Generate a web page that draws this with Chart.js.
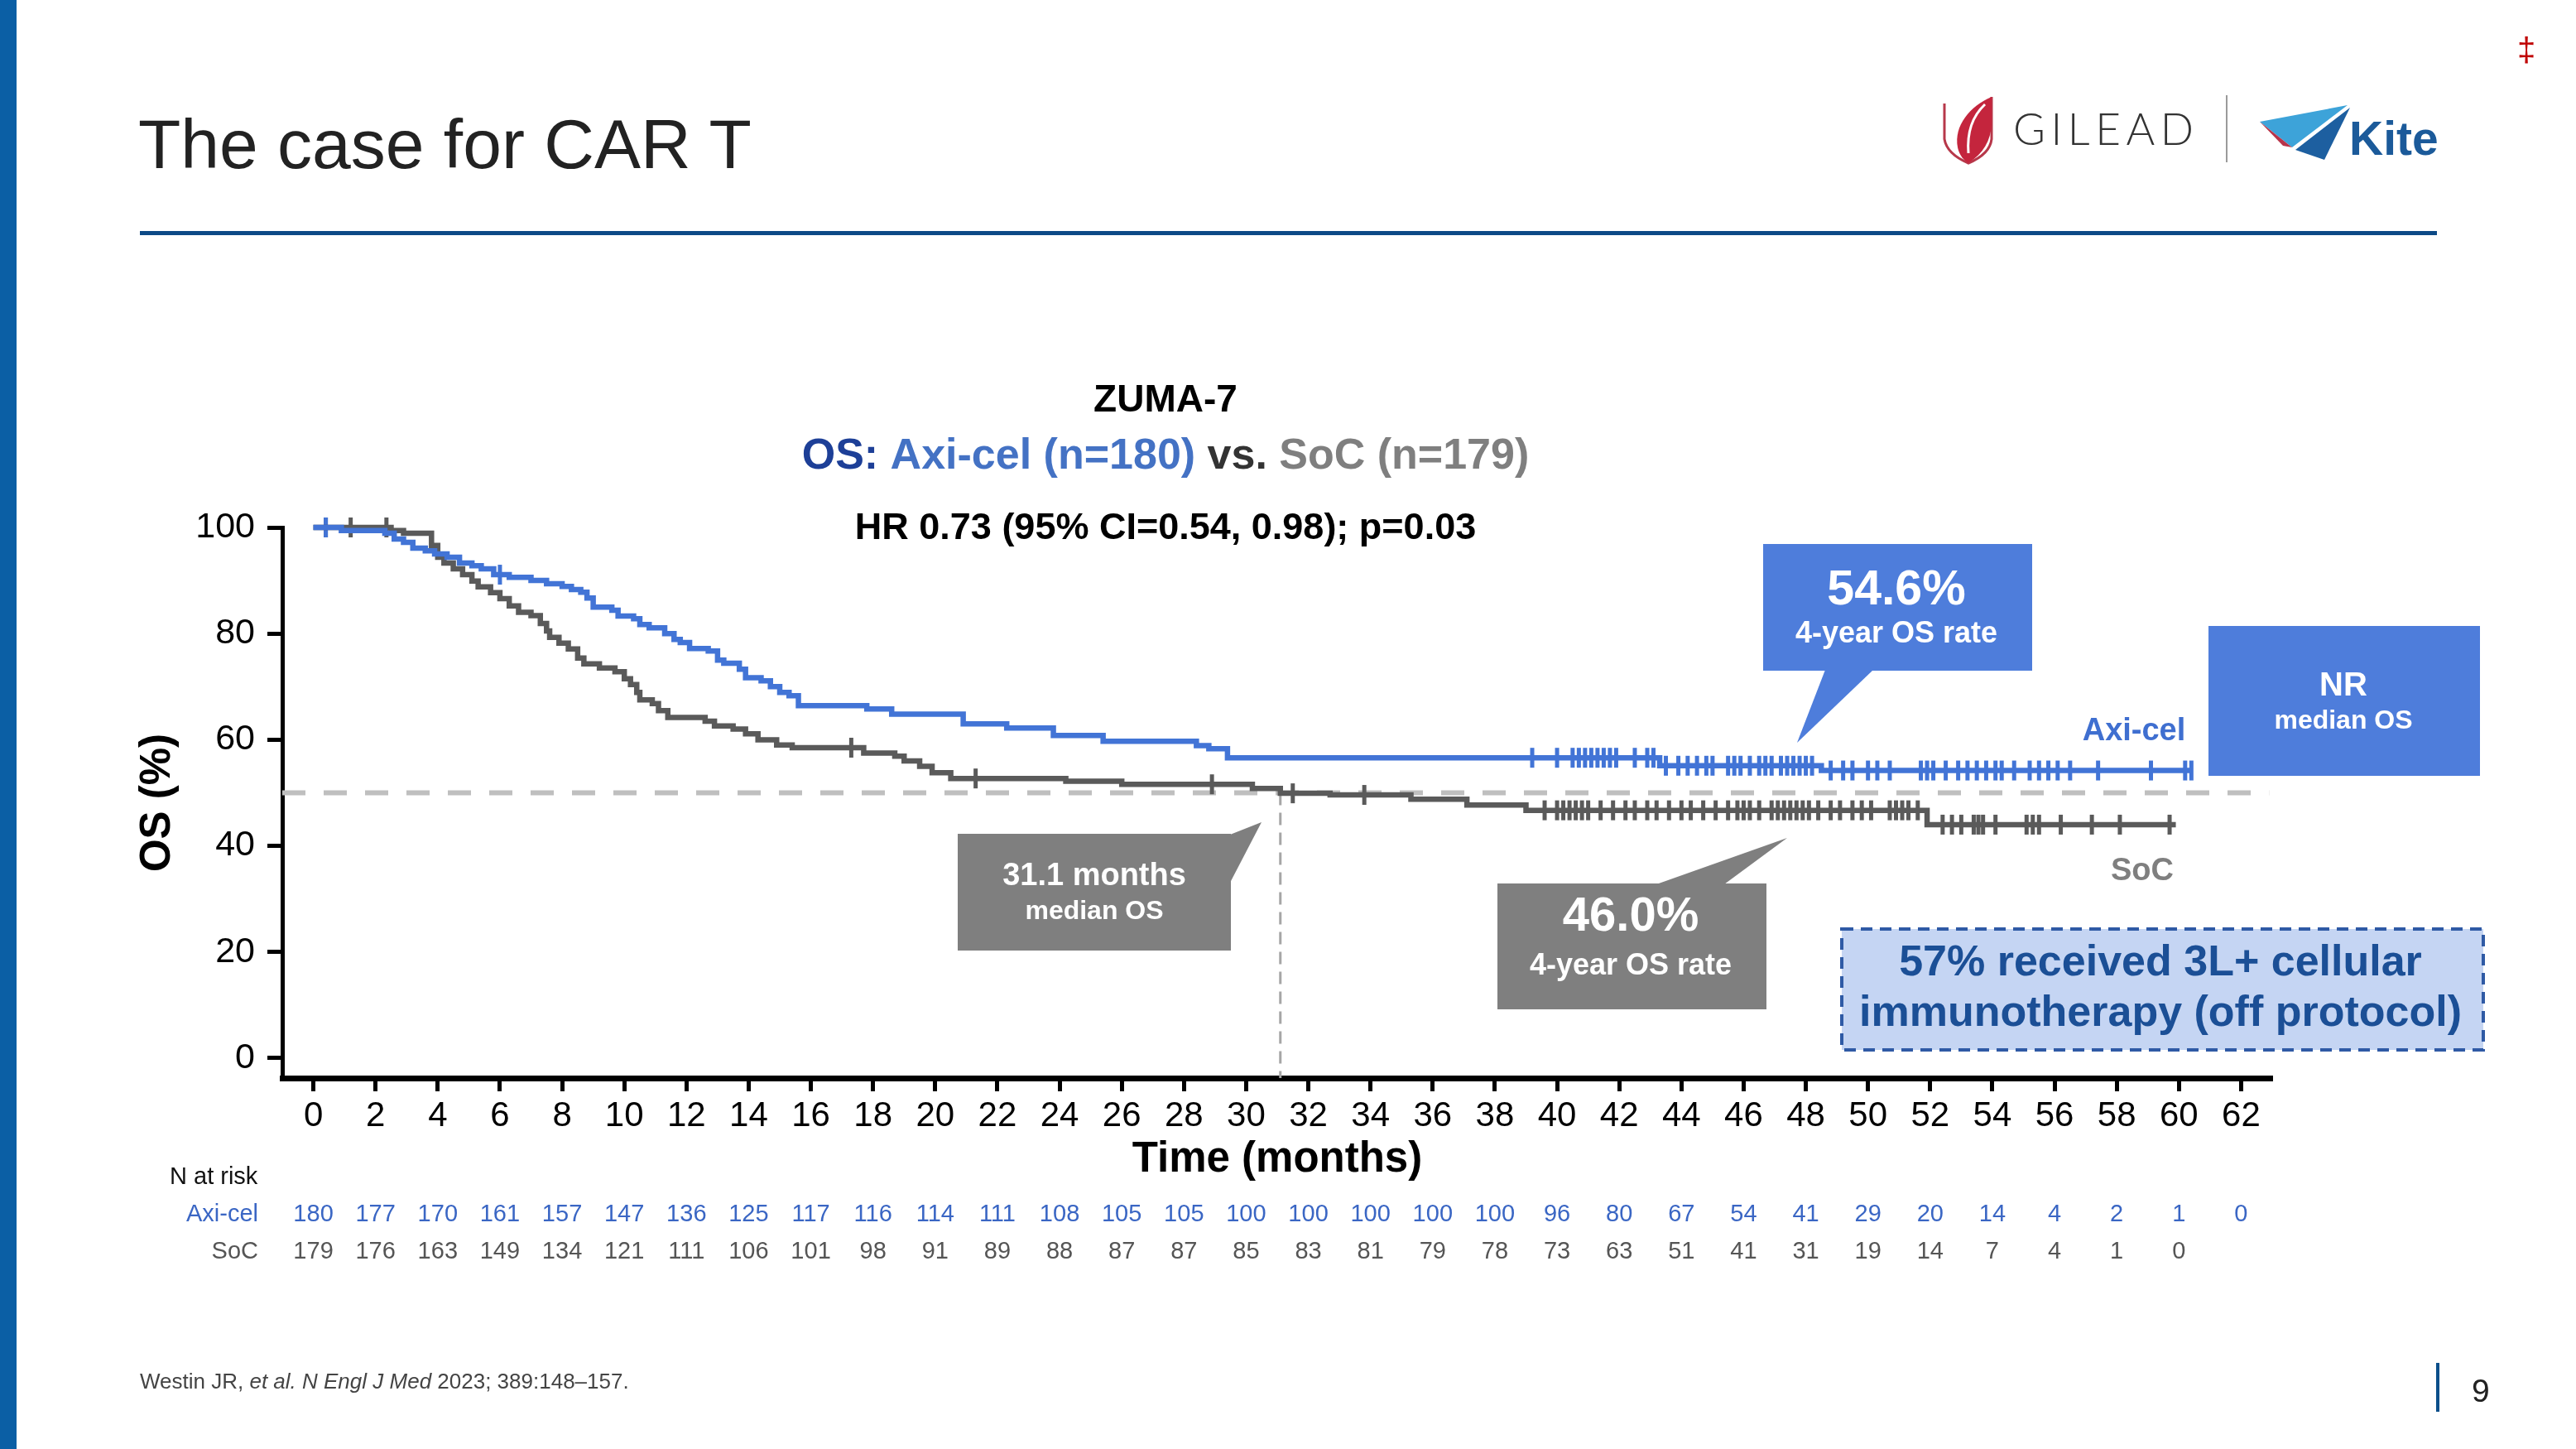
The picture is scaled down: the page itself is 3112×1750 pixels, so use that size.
<!DOCTYPE html>
<html>
<head>
<meta charset="utf-8">
<script src="https://cdn.jsdelivr.net/npm/chart.js@4.4.1/dist/chart.umd.min.js"></script>
<style>
  html, body { margin: 0; padding: 0; background: #fff; }
  #page { position: relative; width: 3112px; height: 1750px; overflow: hidden; background: #fff;
          font-family: "Liberation Sans", Arial, Helvetica, sans-serif; }
  #chart { position: absolute; left: 0; top: 0; }
  .abs { position: absolute; white-space: nowrap; line-height: 1; }
  svg.logo { position: absolute; left: 0; top: 0; }
</style>
</head>
<body>
<div id="page">
  <canvas id="chart" width="3112" height="1750"></canvas>

  <div class="abs" style="left:0;top:0;width:20px;height:1750px;background:#0b5fa5"></div>
  <div class="abs" style="left:167px;top:132px;font-size:84px;color:#222">The case for CAR T</div>
  <div class="abs" style="left:169px;top:279px;width:2775px;height:5px;background:#0d4a86"></div>
  <div class="abs" style="left:3041px;top:40px;font-size:40px;color:#c00000">‡</div>

  <svg class="logo" width="3112" height="260" viewBox="0 0 3112 260">
    <path d="M2349,125 L2349,168 Q2352,186 2378,197 Q2404,186 2406,168 L2406,117" fill="none" stroke="#b7384a" stroke-width="3"/>
    <path d="M2406,117 C2380,128 2360,152 2365,178 C2367,188 2373,194 2378,197 C2396,185 2405,170 2406,150 Z" fill="#c4253d"/>
    <path d="M2398,126 C2383,140 2376,160 2378,185" fill="none" stroke="#fff" stroke-width="3"/>
    <text x="2432" y="175" font-family="Lato, 'Liberation Sans', Arial, sans-serif" font-weight="300" font-size="53" fill="#333" textLength="218" lengthAdjust="spacing">GILEAD</text>
    <line x1="2690" y1="115" x2="2690" y2="196" stroke="#9a9a9a" stroke-width="2"/>
    <polygon points="2730,147 2836,127 2769,178" fill="#3da3d9"/>
    <polygon points="2839,130 2773,181 2808,193" fill="#1d5fa0"/>
    <polygon points="2730,147 2769,178 2758,176" fill="#b8344a"/>
    <text x="2838" y="187" font-family="'Liberation Sans', Arial, sans-serif" font-weight="700" font-size="57" fill="#1b5a9a">Kite</text>
  </svg>

  <div class="abs" style="left:169px;top:1655px;font-size:26px;color:#444">Westin JR, <i>et al. N Engl J Med</i> 2023; 389:148–157.</div>
  <div class="abs" style="left:2943px;top:1646px;width:4px;height:59px;background:#0a4f8a"></div>
  <div class="abs" style="left:2986px;top:1660px;font-size:39px;color:#222">9</div>
</div>

<script>
// ---------------- DATA ----------------
// Kaplan-Meier step points: survival (%) from each time (months) onwards
const axiTime = [0, 0.9, 2.3, 2.6, 2.9, 3.2, 3.6, 3.9, 4.3, 4.7, 5.1, 5.4, 5.8, 6.3, 7.0, 7.5, 8.0, 8.3, 8.6, 8.8,
                 9.0, 9.6, 9.8, 10.3, 10.5, 10.8, 11.3, 11.6, 11.8, 12.1, 12.7, 13.0, 13.2, 13.7, 13.9, 14.4, 14.7, 15.0, 15.3, 15.6,
                 17.8, 18.6, 20.9, 22.3, 23.8, 25.4, 28.4, 28.8, 29.4, 43.3, 48.5, 60.4];
const axiOS   = [100, 99.4, 98.9, 97.8, 97.2, 96.1, 95.6, 95.0, 94.4, 93.3, 92.8, 92.2, 91.1, 90.6, 90.0, 89.4, 88.9, 88.3, 87.8, 86.7,
                 85.0, 84.4, 83.3, 82.8, 81.7, 81.1, 80.0, 78.9, 78.3, 77.2, 76.7, 75.0, 74.4, 73.3, 71.7, 71.1, 70.0, 68.9, 68.3, 66.4,
                 65.8, 64.8, 63.0, 62.2, 60.8, 59.7, 58.9, 58.3, 56.6, 55.1, 54.2, 54.2];

const socTime = [0, 2.5, 2.9, 3.8, 4.0, 4.2, 4.5, 4.8, 5.1, 5.3, 5.7, 6.0, 6.3, 6.6, 7.0, 7.3, 7.5, 7.6, 7.9, 8.2,
                 8.5, 8.7, 9.2, 9.7, 10.0, 10.2, 10.4, 10.5, 10.9, 11.1, 11.4, 12.6, 12.9, 13.5, 13.9, 14.3, 14.9, 15.4, 17.7, 18.7,
                 19.0, 19.5, 19.9, 20.5, 24.2, 26.0, 30.2, 31.1, 32.7, 35.3, 37.1, 39.0, 51.9, 59.9];
const socOS   = [100, 99.4, 98.9, 96.6, 94.4, 93.3, 92.2, 91.1, 89.9, 88.8, 87.7, 86.6, 85.2, 84.0, 83.4, 81.9, 80.5, 79.3, 78.2, 77.1,
                 75.4, 74.3, 73.5, 72.8, 71.5, 70.4, 68.9, 67.5, 66.8, 65.5, 64.2, 63.5, 62.6, 62.0, 61.1, 60.0, 59.0, 58.5, 57.5, 56.9,
                 56.0, 55.0, 53.8, 52.7, 52.2, 51.6, 50.8, 49.9, 49.6, 48.8, 47.7, 46.7, 44.0, 44.0];

// Censoring times (months)
const axiCensored = [0.4, 6.0, 39.2, 40.0, 40.5, 40.7, 40.9, 41.1, 41.3, 41.5, 41.7, 41.9, 42.5, 42.9, 43.1, 43.5, 43.9, 44.2,
                     44.5, 44.8, 45.0, 45.5, 45.7, 45.9, 46.2, 46.5, 46.7, 46.9, 47.2, 47.4, 47.6, 47.8, 48.0, 48.2, 48.8, 49.2,
                     49.5, 50.0, 50.3, 50.7, 51.7, 51.9, 52.1, 52.5, 52.9, 53.2, 53.5, 53.8, 54.1, 54.3, 54.7, 55.2, 55.5, 55.8,
                     56.1, 56.5, 57.4, 59.1, 60.2, 60.4];
const socCensored = [0.4, 1.2, 2.35, 17.3, 21.3, 28.9, 31.5, 33.8, 39.6, 40.0, 40.2, 40.4, 40.6, 40.8, 41.0, 41.4, 41.8, 42.2,
                     42.5, 42.9, 43.2, 43.6, 44.0, 44.3, 44.7, 45.1, 45.5, 45.8, 46.0, 46.2, 46.5, 46.9, 47.1, 47.3, 47.5, 47.7,
                     47.9, 48.1, 48.4, 48.8, 49.1, 49.5, 49.8, 50.1, 50.7, 50.9, 51.1, 51.3, 51.6, 52.4, 52.7, 53.0, 53.4, 53.55,
                     53.7, 54.1, 55.1, 55.3, 55.5, 56.2, 57.2, 58.1, 59.7];

// Number at risk (every 2 months)
const axiAtRisk = [180, 177, 170, 161, 157, 147, 136, 125, 117, 116, 114, 111, 108, 105, 105, 100, 100, 100, 100, 100, 96, 80, 67, 54, 41, 29, 20, 14, 4, 2, 1, 0];
const socAtRisk = [179, 176, 163, 149, 134, 121, 111, 106, 101, 98, 91, 89, 88, 87, 87, 85, 83, 81, 79, 78, 73, 63, 51, 41, 31, 19, 14, 7, 4, 1, 0];

// Axis ticks
const xTickValues = [0, 2, 4, 6, 8, 10, 12, 14, 16, 18, 20, 22, 24, 26, 28, 30, 32, 34, 36, 38, 40, 42, 44, 46, 48, 50, 52, 54, 56, 58, 60, 62];
const yTickValues = [0, 20, 40, 60, 80, 100];

// Reference values
const medianLevel = 50;
const socMedian = 31.1;

// ---------------- HELPERS ----------------
const FONT = '"Liberation Sans", Arial, Helvetica, sans-serif';
const BLUE = '#4274d6';
const GREY = '#5a5a5a';
const BOX_BLUE = '#4e7ddb';
const BOX_GREY = '#7f7f7f';

function survivalAt(times, surv, t) {
  let v = surv[0];
  for (let i = 0; i < times.length; i++) {
    if (times[i] <= t) v = surv[i]; else break;
  }
  return v;
}
const toXY = (times, surv) => times.map((t, i) => ({ x: t, y: surv[i] }));
const censorXY = (cens, times, surv) => cens.map(t => ({ x: t, y: survivalAt(times, surv, t) }));

function fillTextCentered(ctx, text, x, y, font, color) {
  ctx.font = font; ctx.fillStyle = color; ctx.textAlign = 'center'; ctx.textBaseline = 'middle';
  ctx.fillText(text, x, y);
}
function drawRich(ctx, parts, cx, cy, font) {
  ctx.font = font; ctx.textAlign = 'left'; ctx.textBaseline = 'middle';
  const w = parts.reduce((s, p) => s + ctx.measureText(p[0]).width, 0);
  let x = cx - w / 2;
  parts.forEach(p => { ctx.fillStyle = p[1]; ctx.fillText(p[0], x, cy); x += ctx.measureText(p[0]).width; });
}
function poly(ctx, pts, color) {
  ctx.beginPath(); ctx.moveTo(pts[0][0], pts[0][1]);
  for (let i = 1; i < pts.length; i++) ctx.lineTo(pts[i][0], pts[i][1]);
  ctx.closePath(); ctx.fillStyle = color; ctx.fill();
}

// ---------------- PLUGIN: titles, annotations, risk table ----------------
const decorPlugin = {
  id: 'decor',
  afterDraw(chart) {
    const ctx = chart.ctx;
    const xs = chart.scales.x;
    ctx.save();

    // Chart titles
    fillTextCentered(ctx, 'ZUMA-7', 1408, 484, 'bold 46px ' + FONT, '#000');
    drawRich(ctx, [['OS:', '#1d3f97'], [' Axi-cel (n=180)', '#4472c4'], [' vs. ', '#333333'], ['SoC (n=179)', '#7f7f7f']],
             1408, 552, 'bold 52px ' + FONT);
    fillTextCentered(ctx, 'HR 0.73 (95% CI=0.54, 0.98); p=0.03', 1408, 639, 'bold 45px ' + FONT, '#000');

    // SoC median box
    ctx.fillStyle = BOX_GREY; ctx.fillRect(1157, 1007, 330, 141);
    poly(ctx, [[1486, 1008], [1524, 993], [1486, 1066]], BOX_GREY);
    fillTextCentered(ctx, '31.1 months', 1322, 1059, 'bold 38px ' + FONT, '#fff');
    fillTextCentered(ctx, 'median OS', 1322, 1101, 'bold 32px ' + FONT, '#fff');

    // SoC 4-year box
    ctx.fillStyle = BOX_GREY; ctx.fillRect(1809, 1067, 325, 152);
    poly(ctx, [[2001, 1068], [2159, 1012], [2083, 1068]], BOX_GREY);
    fillTextCentered(ctx, '46.0%', 1970, 1108, 'bold 58px ' + FONT, '#fff');
    fillTextCentered(ctx, '4-year OS rate', 1970, 1167, 'bold 36px ' + FONT, '#fff');

    // Axi-cel 4-year box
    ctx.fillStyle = BOX_BLUE; ctx.fillRect(2130, 657, 325, 153);
    poly(ctx, [[2205, 809], [2263, 809], [2171, 897]], BOX_BLUE);
    fillTextCentered(ctx, '54.6%', 2291, 714, 'bold 59px ' + FONT, '#fff');
    fillTextCentered(ctx, '4-year OS rate', 2291, 766, 'bold 36px ' + FONT, '#fff');

    // NR box
    ctx.fillStyle = BOX_BLUE; ctx.fillRect(2668, 756, 328, 181);
    fillTextCentered(ctx, 'NR', 2831, 829, 'bold 40px ' + FONT, '#fff');
    fillTextCentered(ctx, 'median OS', 2831, 871, 'bold 32px ' + FONT, '#fff');

    // Curve labels
    fillTextCentered(ctx, 'Axi-cel', 2578, 884, 'bold 38px ' + FONT, '#3f6fd0');
    fillTextCentered(ctx, 'SoC', 2588, 1053, 'bold 38px ' + FONT, '#7f7f7f');

    // Dashed info box
    ctx.fillStyle = '#c5d5f3'; ctx.fillRect(2225, 1122, 775, 146);
    ctx.setLineDash([14, 9]); ctx.lineWidth = 4; ctx.strokeStyle = '#2f5aa5';
    ctx.strokeRect(2225, 1122, 775, 146); ctx.setLineDash([]);
    fillTextCentered(ctx, '57% received 3L+ cellular', 2610, 1164, 'bold 52px ' + FONT, '#1b4f96');
    fillTextCentered(ctx, 'immunotherapy (off protocol)', 2610, 1225, 'bold 52px ' + FONT, '#1b4f96');

    // Number at risk table
    ctx.font = '29px ' + FONT; ctx.textBaseline = 'middle';
    ctx.textAlign = 'left'; ctx.fillStyle = '#111';
    ctx.fillText('N at risk', 205, 1422);
    ctx.textAlign = 'right';
    ctx.fillStyle = '#3a66c4'; ctx.fillText('Axi-cel', 312, 1467);
    ctx.fillStyle = '#555'; ctx.fillText('SoC', 312, 1512);
    ctx.textAlign = 'center';
    axiAtRisk.forEach((n, i) => { ctx.fillStyle = '#3a66c4'; ctx.fillText(String(n), xs.getPixelForValue(xTickValues[i]), 1467); });
    socAtRisk.forEach((n, i) => { ctx.fillStyle = '#555'; ctx.fillText(String(n), xs.getPixelForValue(xTickValues[i]), 1512); });

    ctx.restore();
  }
};

Chart.defaults.font.family = FONT;
Chart.defaults.color = '#000';

new Chart(document.getElementById('chart'), {
  type: 'line',
  data: {
    datasets: [
      { label: 'Axi-cel', data: toXY(axiTime, axiOS), stepped: 'before', borderColor: BLUE, borderWidth: 6.5,
        pointRadius: 0, fill: false, clip: 20 },
      { label: 'SoC', data: toXY(socTime, socOS), stepped: 'before', borderColor: GREY, borderWidth: 6.5,
        pointRadius: 0, fill: false, clip: 20 },
      { label: 'Axi-cel censored', data: censorXY(axiCensored, axiTime, axiOS), showLine: false,
        pointStyle: 'line', rotation: 90, pointRadius: 12, pointBorderWidth: 5,
        pointBorderColor: BLUE, pointBackgroundColor: BLUE, borderColor: BLUE, clip: 20 },
      { label: 'SoC censored', data: censorXY(socCensored, socTime, socOS), showLine: false,
        pointStyle: 'line', rotation: 90, pointRadius: 12, pointBorderWidth: 5,
        pointBorderColor: GREY, pointBackgroundColor: GREY, borderColor: GREY, clip: 20 },
      { label: '50% reference', data: [{ x: -1, y: medianLevel }, { x: 62.9, y: medianLevel }],
        borderColor: '#bfbfbf', borderWidth: 6, borderDash: [28, 22], pointRadius: 0, fill: false },
      { label: 'SoC median', data: [{ x: socMedian, y: medianLevel }, { x: socMedian, y: -3.75 }],
        borderColor: '#a6a6a6', borderWidth: 3, borderDash: [15, 9], pointRadius: 0, fill: false }
    ]
  },
  options: {
    responsive: false,
    animation: false,
    devicePixelRatio: 1,
    events: [],
    layout: { padding: { left: 0, top: 637, right: 367, bottom: 0 } },
    plugins: { legend: { display: false }, tooltip: { enabled: false }, title: { display: false } },
    scales: {
      x: {
        type: 'linear', min: -1, max: 63,
        afterBuildTicks: s => { s.ticks = xTickValues.map(v => ({ value: v })); },
        afterFit: s => { s.height = 448; },
        grid: { drawOnChartArea: false, drawTicks: true, tickLength: 16, tickWidth: 5, tickColor: '#000' },
        border: { display: true, color: '#000', width: 7 },
        ticks: { font: { size: 42 }, color: '#000', padding: 5, maxRotation: 0, autoSkip: false },
        title: { display: true, text: 'Time (months)', font: { size: 51, weight: 'bold' }, color: '#000',
                 padding: { top: 0, bottom: 318 } }
      },
      y: {
        type: 'linear', min: -3.75, max: 100,
        afterBuildTicks: s => { s.ticks = yTickValues.map(v => ({ value: v })); },
        afterFit: s => { s.width = 341; },
        grid: { drawOnChartArea: false, drawTicks: true, tickLength: 18, tickWidth: 5, tickColor: '#000' },
        border: { display: true, color: '#000', width: 5 },
        ticks: { font: { size: 43 }, color: '#000', padding: 15 },
        title: { display: true, text: 'OS (%)', font: { size: 51, weight: 'bold' }, color: '#000',
                 padding: { top: 160, bottom: 0 } }
      }
    }
  },
  plugins: [decorPlugin]
});
</script>
</body>
</html>
